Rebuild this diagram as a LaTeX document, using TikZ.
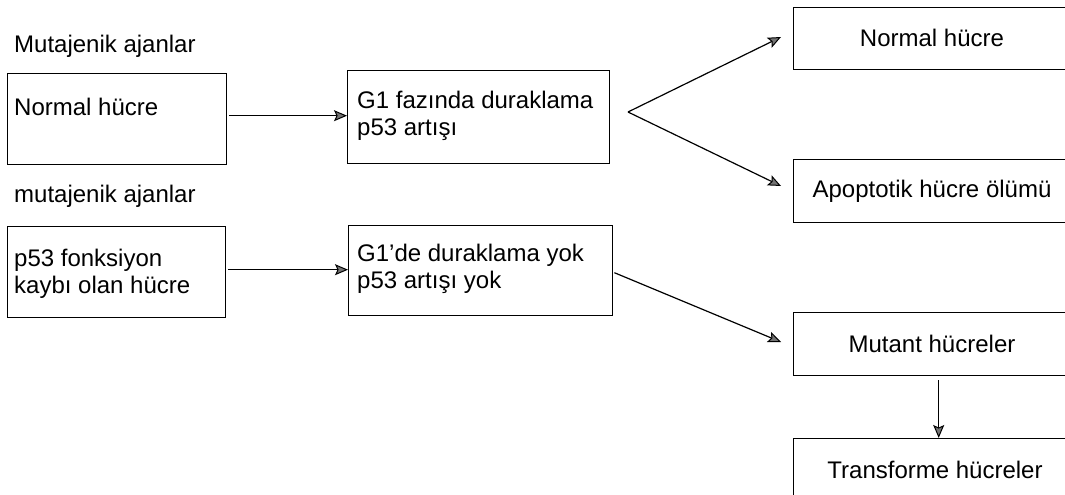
\documentclass[tikz,border=0pt]{standalone}
\usepackage{fontspec}
\setmainfont{Liberation Sans}
\usetikzlibrary{arrows.meta}
\begin{document}
\begin{tikzpicture}[x=1pt,y=-1pt,
  box/.style={draw=black, line width=1.4pt, inner sep=0pt, anchor=north west},
  lbl/.style={font=\fontsize{24}{27}\selectfont, inner sep=0pt, align=left, anchor=west},
  clbl/.style={font=\fontsize{24}{27}\selectfont, inner sep=0pt},
  arr/.style={line width=1.2pt, -{Stealth[length=13pt,width=11pt,inset=2.5pt,fill=black!55,line width=1pt]}}]
\useasboundingbox (0,0) rectangle (1065,495);
\clip (0,0) rectangle (1065,495);
% left column
\node[lbl] (lab1) at (14,46) {Mutajenik ajanlar};
\node[box, minimum width=219pt, minimum height=91pt] (b1) at (7,73) {};
\node[lbl] (t1) at (14,107) {Normal hücre};
\node[lbl] (lab2) at (14,196) {mutajenik ajanlar};
\node[box, minimum width=218pt, minimum height=91pt] (b3) at (7,226) {};
\node[lbl] (t3) at (14,274) {p53 fonksiyon\\kaybı olan hücre};
% middle column
\node[box, minimum width=262pt, minimum height=93pt] (b2) at (347,70) {};
\node[lbl] (t2) at (357,116) {G1 fazında duraklama\\p53 artışı};
\node[box, minimum width=264pt, minimum height=90pt] (b4) at (348,225) {};
\node[lbl] (t4) at (357,269) {G1'de duraklama yok\\p53 artışı yok};
% right column
\node[box, minimum width=290pt, minimum height=62pt] (r1) at (793,7) {};
\node[clbl] (u1) at (932,38) {Normal hücre};
\node[box, minimum width=290pt, minimum height=63pt] (r2) at (793,159) {};
\node[clbl] (u2) at (932,191) {Apoptotik hücre ölümü};
\node[box, minimum width=290pt, minimum height=63pt] (r3) at (793,312) {};
\node[clbl] (u3) at (932,344) {Mutant hücreler};
\node[box, minimum width=290pt, minimum height=80pt] (r4) at (793,438) {};
\node[clbl] (u4) at (935,470) {Transforme hücreler};
% connectors
\coordinate (fork) at (628,112);
\coordinate (tipA) at (781,37);
\coordinate (tipB) at (781,186);
\coordinate (tipC) at (781,342);
\draw[arr] ([xshift=2pt,yshift=3.5pt]b1.east) -- ([yshift=3.5pt]b1.east -| b2.west);
\draw[arr] ([xshift=2pt,yshift=2.5pt]b3.east) -- ([yshift=2.5pt]b3.east -| b4.west);
\draw[arr] (fork) -- (tipA);
\draw[arr] (fork) -- (tipB);
\draw[arr] ([xshift=1pt,yshift=-2pt]b4.north east |- b4.east) -- (tipC);
\draw[arr] ([yshift=-4pt]r3.south) -- (r4.north);
\end{tikzpicture}
\end{document}
